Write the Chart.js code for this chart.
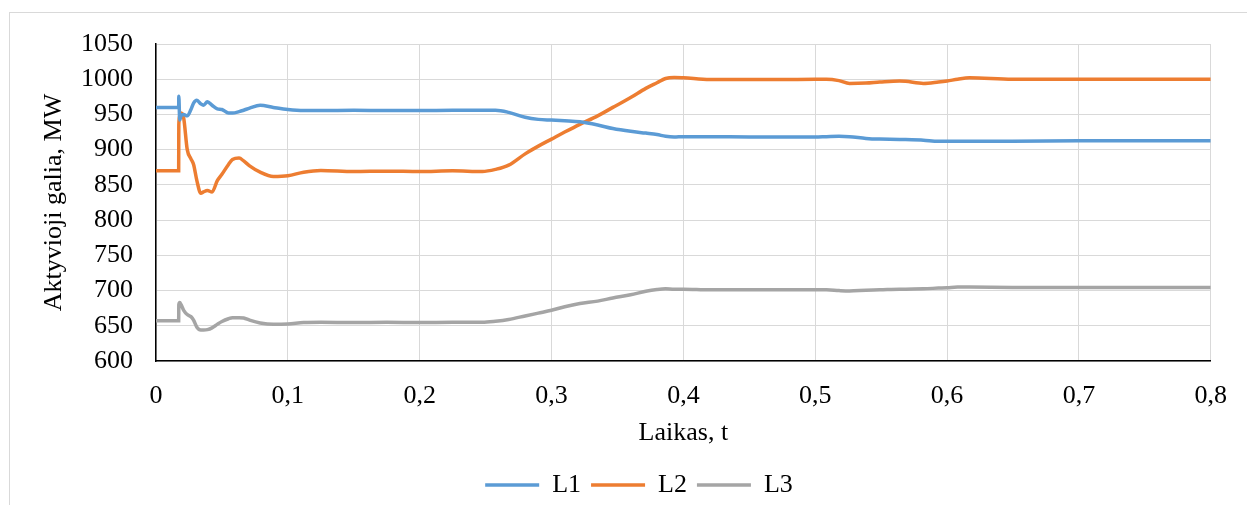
<!DOCTYPE html>
<html>
<head>
<meta charset="utf-8">
<script src="https://cdn.jsdelivr.net/npm/chart.js@4.4.0/dist/chart.umd.min.js"></script>
<style>
  body { margin: 0; background: #fff; overflow: hidden; }
  #wrap { position: relative; width: 1247px; height: 505px; }
  #frame { position: absolute; left: 9px; top: 12px; width: 1400px; height: 700px; border: 1px solid #d9d9d9; }
  canvas { position: absolute; left: 0; top: 0; }
</style>
</head>
<body>
<div id="wrap">
  <div id="frame"></div>
  <canvas id="chart-1" width="1247" height="505"></canvas>
</div>
<script>
const timeValues = [
  0, 0.0172, 0.0173, 0.018, 0.019, 0.021, 0.0237, 0.0265, 0.0285, 0.031,
  0.034, 0.036, 0.039, 0.0425, 0.0465, 0.05, 0.055, 0.058, 0.063, 0.0665,
  0.071, 0.079, 0.089, 0.1, 0.112, 0.125, 0.15, 0.175, 0.2, 0.225,
  0.2475, 0.2575, 0.2675, 0.28, 0.29, 0.3, 0.31, 0.3215, 0.335, 0.3465,
  0.36, 0.3715, 0.38, 0.3865, 0.393, 0.4, 0.42, 0.45, 0.473, 0.5,
  0.5085, 0.518, 0.526, 0.5385, 0.549, 0.564, 0.5685, 0.582, 0.5935, 0.6,
  0.608, 0.617, 0.6495, 0.7, 0.75, 0.8
]

const l1Values = [
  960, 960, 976, 942, 948, 950, 948, 957, 966, 970,
  965, 963, 968, 963, 958, 957, 952, 952, 954, 956,
  959, 963, 960, 957, 955.5, 955.5, 956, 955.5, 955.5, 956,
  956, 956, 953, 946, 943, 942, 941, 939.5, 935, 930,
  926, 923.5, 921.5, 919, 918, 918.5, 918.5, 918, 918, 918,
  918.5, 919, 918.5, 916, 915, 914.5, 914.5, 913.5, 912, 912,
  912, 912, 912, 912.5, 912.5, 912.5
]

const l2Values = [
  870, 870, 935, 948, 952, 945, 900, 887, 879, 856,
  838, 840, 842, 840, 856, 865, 879, 886, 888, 884,
  877, 868, 862, 863, 868, 870.5, 869, 869.5, 869, 870,
  869, 872, 878, 894, 905, 915, 925, 936, 948, 960,
  974, 987, 995, 1001, 1002.5, 1002, 999.5, 999.5, 999.5, 1000,
  1000, 998, 994, 994.5, 996, 997.5, 997, 994, 996, 997.5,
  1000, 1002, 1000, 1000, 1000, 1000
]

const l3Values = [
  657, 657, 680, 683, 680, 672, 666, 663, 658, 648,
  644, 644, 644.5, 647, 652, 656, 660, 661.5, 661.5, 661,
  658, 654, 652, 652.5, 654.5, 655, 654.5, 655, 654.5, 655,
  655, 656.5, 659, 664, 668, 672, 677, 681.5, 685, 689.5,
  694, 699, 701.5, 702.5, 702, 702, 701, 701, 701, 701,
  701, 700, 699.5, 700.5, 701, 702, 702, 702.5, 703.5, 704,
  705, 705, 704.5, 704.5, 704.5, 704.5
]

const seriesNames = ['L1', 'L2', 'L3']
const seriesColors = ['#5b9bd5', '#ed7d31', '#a5a5a5']

const xTitle = 'Laikas, t'
const yTitle = 'Aktyvioji galia, MW'

function toPoints (values) {
  return values.map((v, i) => ({ x: timeValues[i], y: v }))
}

const fontFamily = '"Liberation Serif", "Times New Roman", serif'
const fontSize = 26
const textColor = '#000'
const gridColor = '#d9d9d9'

// legend sits a bit right of centre in the original
const shiftLegend = {
  id: 'shiftLegend',
  afterLayout (chart) {
    chart.legend.left += 14
    chart.legend.right += 14
  }
}

buildChart()

function buildChart () {
  const ctx = document.getElementById('chart-1')
  const allValues = [l1Values, l2Values, l3Values]

  new Chart(ctx, {
    type: 'line',
    data: {
      datasets: allValues.map((values, i) => ({
        label: seriesNames[i],
        data: toPoints(values),
        borderColor: seriesColors[i],
        backgroundColor: seriesColors[i],
        borderWidth: 3.5,
        pointRadius: 0,
        cubicInterpolationMode: 'monotone',
        fill: false
      }))
    },
    plugins: [shiftLegend],
    options: {
      responsive: false,
      animation: false,
      layout: {
        padding: { left: 39, right: 36, top: 44, bottom: -3 }
      },
      scales: {
        x: {
          type: 'linear',
          min: 0,
          max: 0.8,
          afterFit: scale => { scale.height = 101 },
          ticks: {
            stepSize: 0.1,
            padding: 20,
            autoSkip: false,
            maxRotation: 0,
            color: textColor,
            font: { family: fontFamily, size: fontSize },
            callback: value => value === 0 ? '0' : value.toFixed(1).replace('.', ',')
          },
          grid: { color: gridColor, lineWidth: 1, drawTicks: false },
          border: { color: '#000', width: 1.5 },
          title: {
            display: true,
            text: xTitle,
            color: textColor,
            font: { family: fontFamily, size: fontSize },
            padding: { top: 0, bottom: 13 }
          }
        },
        y: {
          min: 600,
          max: 1050,
          afterFit: scale => { scale.width = 117 },
          ticks: {
            stepSize: 50,
            padding: 23,
            autoSkip: false,
            color: textColor,
            font: { family: fontFamily, size: fontSize },
            callback: value => String(value)
          },
          grid: { color: gridColor, lineWidth: 1, drawTicks: false },
          border: { color: '#000', width: 1.5 },
          title: {
            display: true,
            text: yTitle,
            color: textColor,
            font: { family: fontFamily, size: fontSize },
            padding: { top: 0, bottom: 0 }
          }
        }
      },
      plugins: {
        legend: {
          position: 'bottom',
          labels: {
            usePointStyle: true,
            pointStyle: 'line',
            pointStyleWidth: 54,
            color: textColor,
            font: { family: fontFamily, size: fontSize },
            padding: 10
          }
        },
        tooltip: { enabled: false }
      }
    }
  })
}
</script>
</body>
</html>
